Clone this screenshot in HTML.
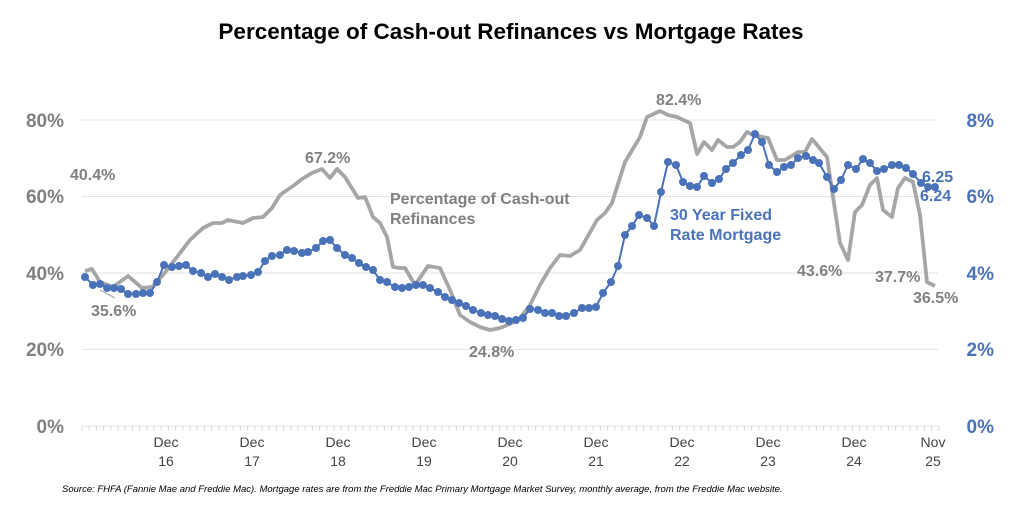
<!DOCTYPE html>
<html><head><meta charset="utf-8"><style>
body{margin:0;background:#fff;}
svg text{font-family:"Liberation Sans",Arial,sans-serif;}
</style></head><body>
<svg width="1024" height="503" viewBox="0 0 1024 503" xmlns="http://www.w3.org/2000/svg">
<rect width="1024" height="503" fill="#fff"/>
<text x="511" y="39" text-anchor="middle" font-size="22.5" font-weight="bold" fill="#000">Percentage of Cash-out Refinances vs Mortgage Rates</text>
<g stroke="#e3e3e3" stroke-width="1">
<line x1="82" y1="120" x2="938" y2="120"/>
<line x1="82" y1="196.5" x2="938" y2="196.5"/>
<line x1="82" y1="273" x2="938" y2="273"/>
<line x1="82" y1="349.5" x2="938" y2="349.5"/>
<line x1="82" y1="426" x2="938" y2="426"/>
</g>
<g stroke="#d9d9d9" stroke-width="1" id="ticks"></g>
<g font-size="19" font-weight="bold" fill="#808080" text-anchor="end">
<text x="64" y="127">80%</text><text x="64" y="203">60%</text><text x="64" y="280">40%</text><text x="64" y="356">20%</text><text x="64" y="433">0%</text>
</g>
<g font-size="19" font-weight="bold" fill="#4a72b8" text-anchor="end">
<text x="994" y="127">8%</text><text x="994" y="203">6%</text><text x="994" y="280">4%</text><text x="994" y="356">2%</text><text x="994" y="433">0%</text>
</g>
<g font-size="14" fill="#444" text-anchor="middle">
<text x="166" y="447">Dec</text><text x="166" y="466">16</text>
<text x="252" y="447">Dec</text><text x="252" y="466">17</text>
<text x="338" y="447">Dec</text><text x="338" y="466">18</text>
<text x="424" y="447">Dec</text><text x="424" y="466">19</text>
<text x="510" y="447">Dec</text><text x="510" y="466">20</text>
<text x="596" y="447">Dec</text><text x="596" y="466">21</text>
<text x="682" y="447">Dec</text><text x="682" y="466">22</text>
<text x="768" y="447">Dec</text><text x="768" y="466">23</text>
<text x="854" y="447">Dec</text><text x="854" y="466">24</text>
<text x="933" y="447">Nov</text><text x="933" y="466">25</text>
</g>
<polyline fill="none" stroke="#a6a6a6" stroke-width="3.8" stroke-linejoin="round" points="85,271 92,269 100,282 113,287 128,276 142,288 152,287 163,275 177,257 190,240 203,228 213,223 222,223 228,220 243,223 253,218 263,217 272,208 280,195 293,186 302,179 312,173 322,169 330,178 337,169 345,177 358,198 365,197 373,217 380,223 387,237 393,267 400,268 405,268 415,285 428,266 440,268 450,290 460,315 470,322 480,327 490,330 500,328 510,324 520,318 530,305 540,285 550,268 560,255 570,256 580,250 597,220 605,213 612,203 625,162 640,137 647,117 660,111 668,115 677,117 690,123 697,154 704,142 712,150 718,140 727,147 733,147 740,142 747,132 753,135 768,138 777,160 785,160 798,152 805,152 812,139 827,157 840,243 848,260 855,212 862,205 870,185 877,178 883,210 892,217 898,188 905,178 913,182 920,215 927,282 935,286"/>
<line x1="100" y1="290" x2="115" y2="298" stroke="#a6a6a6" stroke-width="1"/>
<g id="blue"></g>
<g font-size="16" font-weight="bold" fill="#808080">
<text x="70" y="180">40.4%</text>
<text x="91" y="316">35.6%</text>
<text x="305" y="163">67.2%</text>
<text x="656" y="105">82.4%</text>
<text x="469" y="357">24.8%</text>
<text x="797" y="276">43.6%</text>
<text x="875" y="282">37.7%</text>
<text x="913" y="303">36.5%</text>
<text x="390" y="204">Percentage of Cash-out</text>
<text x="390" y="224">Refinances</text>
</g>
<g font-size="16" font-weight="bold" fill="#4a72b8">
<text x="922" y="182">6.25</text>
<text x="920" y="201">6.24</text>
<text x="670" y="220">30 Year Fixed</text>
<text x="670" y="240">Rate Mortgage</text>
</g>
<text x="62" y="492" font-size="9.5" font-style="italic" fill="#000">Source: FHFA (Fannie Mae and Freddie Mac). Mortgage rates are from the Freddie Mac Primary Mortgage Market Survey, monthly average, from the Freddie Mac website.</text>
</svg>
<script>
var ns="http://www.w3.org/2000/svg";
var t=document.getElementById("ticks");
for(var i=0;i<=119;i++){var x=82+i*7.2;var l=document.createElementNS(ns,"line");l.setAttribute("x1",x);l.setAttribute("x2",x);l.setAttribute("y1",426);l.setAttribute("y2",431);t.appendChild(l);}
var p=[[85,277],[93,285],[100,284],[107,288],[114,288],[121,289],[128,294],[136,294],[143,293],[150,293],[157,282],[164,265],[172,267],[179,266],[186,265],[193,271],[201,273],[208,277],[215,274],[222,277],[229,280],[237,277],[243,276],[251,275],[258,272],[265,261],[272,256],[280,255],[287,250],[294,251],[302,253],[308,252],[316,248],[323,241],[330,240],[337,248],[345,255],[352,258],[359,263],[366,267],[373,270],[380,280],[387,282],[395,287],[402,288],[409,287],[416,285],[423,285],[430,288],[438,292],[445,297],[452,300],[459,303],[466,306],[473,310],[481,313],[488,315],[495,316],[502,319],[509,321],[516,320],[523,318],[530,309],[538,310],[545,313],[552,313],[559,316],[566,316],[574,313],[582,308],[589,308],[596,307],[603,293],[611,282],[618,266],[625,235],[632,226],[639,215],[647,218],[654,226],[661,192],[668,162],[676,165],[683,182],[690,186],[697,187],[704,176],[712,183],[719,179],[726,169],[733,163],[741,155],[748,150],[755,134],[762,142],[769,165],[777,172],[784,167],[791,165],[798,158],[806,156],[813,160],[819,163],[827,177],[834,189],[841,180],[848,165],[856,169],[863,159],[870,163],[877,171],[884,169],[892,165],[899,165],[906,168],[913,174],[921,183],[928,187],[935,187]];
var b=document.getElementById("blue");
var pl=document.createElementNS(ns,"polyline");pl.setAttribute("fill","none");pl.setAttribute("stroke","#4a72b8");pl.setAttribute("stroke-width","2");
pl.setAttribute("points",p.map(function(q){return q.join(",")}).join(" "));b.appendChild(pl);
p.forEach(function(q){var c=document.createElementNS(ns,"circle");c.setAttribute("cx",q[0]);c.setAttribute("cy",q[1]);c.setAttribute("r",4);c.setAttribute("fill","#4a72b8");b.appendChild(c);});
</script>
</body></html>
